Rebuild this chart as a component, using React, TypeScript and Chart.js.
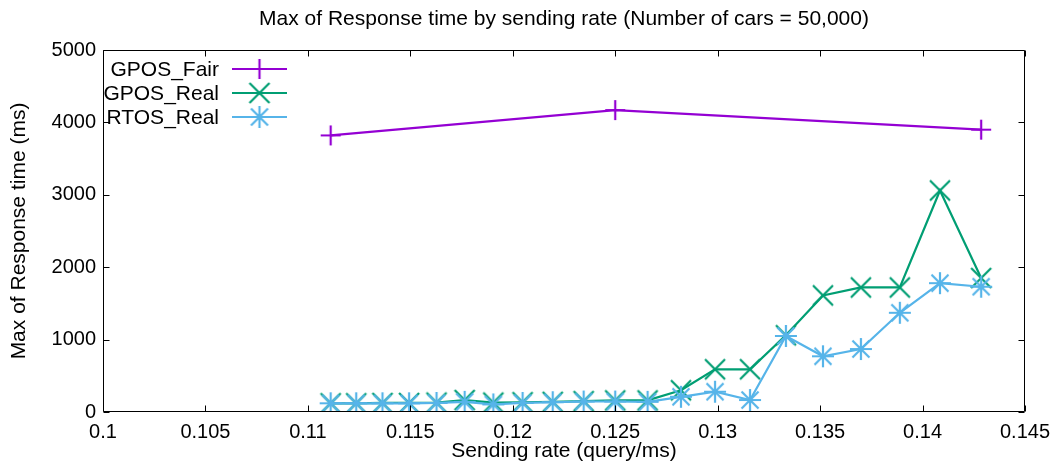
import { useEffect, useRef } from 'react';
import { Chart, registerables } from 'chart.js';

Chart.register(...registerables);

const FONT = '"Liberation Sans", Arial, Helvetica, sans-serif';

const chartTitle = 'Max of Response time by sending rate (Number of cars = 50,000)';
const xAxisTitle = 'Sending rate (query/ms)';
const yAxisTitle = 'Max of Response time (ms)';

const seriesNames = ['GPOS_Fair', 'GPOS_Real', 'RTOS_Real'];
const seriesColors = ['#9400d3', '#009e73', '#56b4e9'];

const fairRates = [0.11111, 0.125, 0.14286];
const fairMaxMs = [3820, 4170, 3900];

const realRates = [
  0.11111, 0.11236, 0.11364, 0.11494, 0.11628, 0.11765, 0.11905, 0.12048, 0.12195, 0.12346,
  0.125, 0.12658, 0.12821, 0.12987, 0.13158, 0.13333, 0.13514, 0.13699, 0.13889, 0.14085, 0.14286,
];
const gposRealMaxMs = [
  120, 120, 125, 125, 130, 165, 130, 135, 140, 150,
  160, 160, 300, 590, 590, 1060, 1610, 1720, 1720, 3060, 1850,
];
const rtosRealMaxMs = [
  120, 120, 120, 120, 125, 140, 105, 125, 135, 145,
  145, 140, 210, 280, 165, 1050, 770, 870, 1370, 1780, 1730,
];

const xTickLabels = ['0.1', '0.105', '0.11', '0.115', '0.12', '0.125', '0.13', '0.135', '0.14', '0.145'];
const yTickLabels = ['0', '1000', '2000', '3000', '4000', '5000'];

type MarkerKind = 'plus' | 'cross' | 'star';

function makeMarker(kind: MarkerKind, color: string): HTMLCanvasElement {
  const s = 26;
  const c = document.createElement('canvas');
  c.width = s;
  c.height = s;
  const ctx = c.getContext('2d')!;
  ctx.strokeStyle = color;
  ctx.lineWidth = 2.2;
  const m = s / 2;
  const r = kind === 'star' ? 11 : 10;
  ctx.beginPath();
  if (kind !== 'cross') {
    ctx.moveTo(m - r, m);
    ctx.lineTo(m + r, m);
    ctx.moveTo(m, m - r);
    ctx.lineTo(m, m + r);
  }
  if (kind !== 'plus') {
    const d = kind === 'star' ? 8.5 : 10;
    ctx.moveTo(m - d, m - d);
    ctx.lineTo(m + d, m + d);
    ctx.moveTo(m - d, m + d);
    ctx.lineTo(m + d, m - d);
  }
  ctx.stroke();
  return c;
}

const frameAndLegend = {
  id: 'frameAndLegend',
  afterDraw(chart: any) {
    const ctx = chart.ctx as CanvasRenderingContext2D;
    const { left, right, top, bottom } = chart.chartArea;
    const xs = chart.scales.x;
    const ys = chart.scales.y;
    const tl = 6;
    ctx.save();
    ctx.strokeStyle = '#000';
    ctx.lineWidth = 1;
    ctx.beginPath();
    const L = Math.round(left) + 0.5;
    const R = Math.round(right) - 0.5;
    const T = Math.round(top) + 0.5;
    const B = Math.round(bottom) - 0.5;
    ctx.rect(L, T, R - L, B - T);
    xs.ticks.forEach((t: any) => {
      const px = Math.round(xs.getPixelForValue(t.value)) + 0.5;
      ctx.moveTo(px, B);
      ctx.lineTo(px, B - tl);
      ctx.moveTo(px, T);
      ctx.lineTo(px, T + tl);
    });
    ys.ticks.forEach((t: any) => {
      const py = Math.round(ys.getPixelForValue(t.value)) + 0.5;
      ctx.moveTo(L, py);
      ctx.lineTo(L + tl, py);
      ctx.moveTo(R, py);
      ctx.lineTo(R - tl, py);
    });
    ctx.stroke();

    // legend (gnuplot style: right-aligned label, then sample line with marker)
    const textRight = 219;
    const lineStart = 232;
    const lineEnd = 287;
    const rowY0 = 69;
    const rowStep = 24;
    ctx.font = `21px ${FONT}`;
    ctx.textAlign = 'right';
    ctx.textBaseline = 'middle';
    chart.data.datasets.forEach((ds: any, i: number) => {
      const y = rowY0 + rowStep * i;
      ctx.fillStyle = '#000';
      ctx.fillText(ds.label, textRight, y + 1);
      ctx.strokeStyle = ds.borderColor;
      ctx.lineWidth = 2.2;
      ctx.beginPath();
      ctx.moveTo(lineStart, y);
      ctx.lineTo(lineEnd, y);
      ctx.stroke();
      const img = ds.pointStyle as HTMLCanvasElement;
      const cx = (lineStart + lineEnd) / 2;
      ctx.drawImage(img, cx - img.width / 2, y - img.height / 2);
    });
    ctx.restore();
  },
};

export default function App() {
  const canvasRef = useRef<HTMLCanvasElement | null>(null);

  useEffect(() => {
    const canvas = canvasRef.current;
    if (!canvas) return;
    Chart.defaults.color = '#000';

    const markers: MarkerKind[] = ['plus', 'cross', 'star'];
    const seriesX = [fairRates, realRates, realRates];
    const seriesY = [fairMaxMs, gposRealMaxMs, rtosRealMaxMs];

    const datasets = seriesNames.map((name, i) => ({
      label: name,
      data: seriesX[i].map((x, j) => ({ x, y: seriesY[i][j] })),
      borderColor: seriesColors[i],
      backgroundColor: seriesColors[i],
      borderWidth: 2.2,
      pointStyle: makeMarker(markers[i], seriesColors[i]),
      pointRadius: 10,
      pointHoverRadius: 10,
      tension: 0,
      fill: false,
      order: seriesNames.length - i,
    }));

    const chart = new Chart(canvas, {
      type: 'line',
      data: { datasets },
      plugins: [frameAndLegend],
      options: {
        animation: false,
        responsive: false,
        events: [],
        layout: { padding: { left: 0, right: 38, top: 0, bottom: 0 } },
        plugins: {
          legend: { display: false },
          tooltip: { enabled: false },
          title: {
            display: true,
            text: chartTitle,
            fullSize: false,
            color: '#000',
            font: { family: FONT, size: 21, weight: 'normal' },
            padding: { top: 7, bottom: 17.8 },
          },
        },
        scales: {
          x: {
            type: 'linear',
            min: 0.1,
            max: 0.145,
            afterFit: (s: any) => {
              s.height = 54;
            },
            grid: { display: false, drawTicks: false, tickLength: 0 },
            border: { display: false },
            ticks: {
              stepSize: 0.005,
              padding: 8,
              maxRotation: 0,
              autoSkip: false,
              color: '#000',
              font: { family: FONT, size: 20 },
              callback: (_v: any, i: number) => xTickLabels[i],
            },
            title: {
              display: true,
              text: xAxisTitle,
              color: '#000',
              font: { family: FONT, size: 21 },
              padding: { top: 0, bottom: 2.4 },
            },
          },
          y: {
            type: 'linear',
            min: 0,
            max: 5000,
            afterFit: (s: any) => {
              s.width = 103;
            },
            grid: { display: false, drawTicks: false, tickLength: 0 },
            border: { display: false },
            ticks: {
              stepSize: 1000,
              padding: 7,
              color: '#000',
              font: { family: FONT, size: 20 },
              callback: (_v: any, i: number) => yTickLabels[i],
            },
            title: {
              display: true,
              text: yAxisTitle,
              color: '#000',
              font: { family: FONT, size: 21 },
              padding: { top: 6.4, bottom: 0 },
            },
          },
        },
      },
    });

    return () => {
      chart.destroy();
    };
  }, []);

  return (
    <div style={{ position: 'absolute', left: 0, top: 0, width: 1063, height: 466, background: '#fff' }}>
      <canvas ref={canvasRef} width={1063} height={466} style={{ display: 'block' }} />
    </div>
  );
}
